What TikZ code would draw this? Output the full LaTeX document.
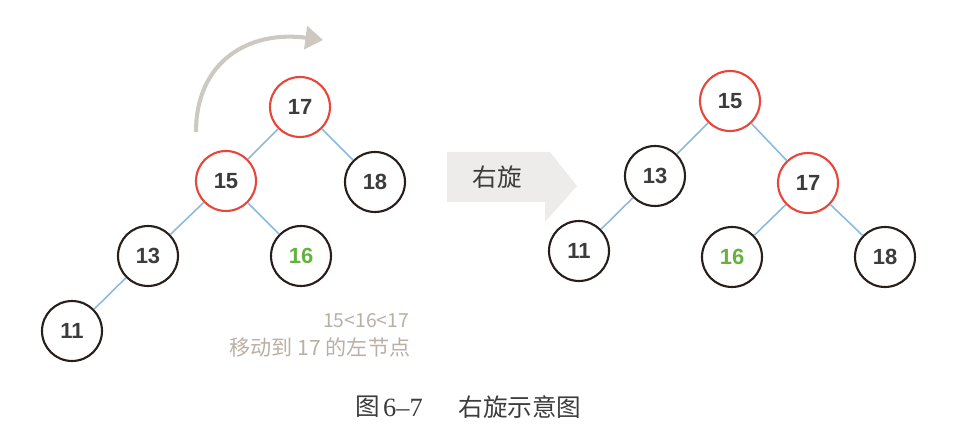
\documentclass[tikz,border=0pt]{standalone}
\usepackage{fontspec}
\setmainfont{Liberation Serif}
\newfontfamily\numfont{Liberation Sans}
\newfontfamily\cjk{Noto Sans CJK SC}
\usetikzlibrary{arrows.meta}
\definecolor{redc}{RGB}{232,70,58}
\definecolor{blackc}{RGB}{40,30,28}
\definecolor{edgec}{RGB}{140,186,220}
\definecolor{greenc}{RGB}{100,178,60}
\definecolor{notec}{RGB}{185,175,165}
\definecolor{arrowc}{RGB}{205,200,192}
\definecolor{blockc}{RGB}{238,236,234}
\definecolor{textc}{RGB}{60,60,60}
\tikzset{
  tn/.style={circle, draw=blackc, line width=1.2pt, minimum size=1.2cm, inner sep=0pt,
    font=\numfont\bfseries\fontsize{12.5}{14}\selectfont, text=textc},
  rn/.style={tn, draw=redc},
  gt/.style={text=greenc},
  ed/.style={draw=edgec, line width=0.9pt},
}
\begin{document}
\begin{tikzpicture}[x=0.02cm,y=-0.02cm]
\useasboundingbox (0,0) rectangle (957,438);
% left tree
\node[rn] (a17) at (300,107) {17};
\node[rn] (a15) at (226,181) {15};
\node[tn] (a18) at (375,182) {18};
\node[tn] (a13) at (148,256) {13};
\node[tn,gt] (a16) at (301,256) {16};
\node[tn] (a11) at (72,331) {11};
\draw[ed] (a17) -- (a15);
\draw[ed] (a17) -- (a18);
\draw[ed] (a15) -- (a13);
\draw[ed] (a15) -- (a16);
\draw[ed] (a13) -- (a11);
% curved arrow
\coordinate (cs) at (196,132);
\coordinate (ce) at (323,40);
\draw[arrowc, line width=2.3pt, -{Triangle[length=10pt,width=13pt]}] (cs) .. controls (196,62) and (248,30) .. (ce);
% notes
\node[text=notec, font=\cjk\fontsize{11}{13}\selectfont] (n1) at (366,321) {15<16<17};
\node[text=notec, font=\cjk\fontsize{12}{14}\selectfont] (n2) at (320,347) {移动到 17 的左节点};
% block arrow
\fill[blockc] (447,152) -- (550,152) -- (577,186) -- (545,222) -- (545,202) -- (447,202) -- cycle;
\node[font=\cjk\fontsize{14}{16}\selectfont, text=textc] (rot) at (497,177) {右旋};
% right tree
\node[rn] (b15) at (730,101) {15};
\node[tn] (b13) at (655,176) {13};
\node[rn] (b17) at (808,183) {17};
\node[tn] (b11) at (579,251) {11};
\node[tn,gt] (b16) at (732,257) {16};
\node[tn] (b18) at (885,257) {18};
\draw[ed] (b15) -- (b13);
\draw[ed] (b15) -- (b17);
\draw[ed] (b13) -- (b11);
\draw[ed] (b17) -- (b16);
\draw[ed] (b17) -- (b18);
% caption
\node[font=\cjk\fontsize{14}{16}\selectfont, text=textc] (c1) at (368,407) {图};
\node[font=\fontsize{15}{16}\selectfont, text=textc] (c2) at (403,408) {6–7};
\node[font=\cjk\fontsize{14}{16}\selectfont, text=textc] (c3) at (520,407) {右旋示意图};
\end{tikzpicture}
\end{document}
